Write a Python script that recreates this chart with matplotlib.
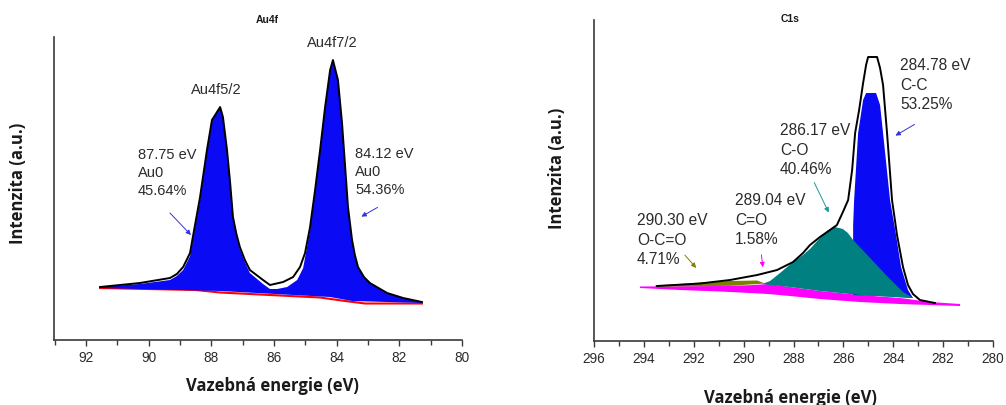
import numpy as np
import matplotlib
matplotlib.use("Agg")
import matplotlib.pyplot as plt
from matplotlib.ticker import MultipleLocator

# ---- Au4f panel (binding energy in eV, intensity in a.u.) ----
au_env_x = [91.55, 90.28, 89.32, 89.10, 88.90, 88.68, 88.59, 88.36, 88.14, 87.98,
            87.88, 87.72, 87.63, 87.50, 87.40, 87.31, 87.20, 87.09, 86.93, 86.77,
            86.35, 86.13, 85.71, 85.39, 85.17, 85.01, 84.85, 84.69, 84.53, 84.37,
            84.21, 84.12, 83.96, 83.83, 83.73, 83.64, 83.51, 83.42, 83.32, 83.13,
            82.94, 82.39, 81.88, 81.28]
au_env_y = [53, 57, 62, 66, 73, 87, 103, 143, 190, 220,
            225, 233, 223, 190, 157, 123, 106, 93, 80, 70,
            60, 55, 58, 63, 73, 87, 113, 150, 190, 233,
            270, 280, 260, 217, 173, 133, 100, 85, 73, 63,
            57, 47, 42, 38]
# fitted Au0 components (filled)
au_fit_x = [91.55, 90.28, 89.32, 89.10, 88.90, 88.68, 88.59, 88.36, 88.14, 87.98,
            87.88, 87.72, 87.63, 87.50, 87.40, 87.31, 87.20, 87.09, 86.93, 86.77,
            86.35, 86.13, 85.90, 85.58, 85.26, 85.07, 84.85, 84.69, 84.53, 84.37,
            84.21, 84.12, 83.96, 83.83, 83.73, 83.64, 83.51, 83.42, 83.32, 83.13,
            82.94, 82.39, 81.88, 81.28]
au_fit_y = [53, 56, 60, 64, 70, 84, 100, 140, 188, 218,
            225, 233, 223, 190, 155, 121, 104, 91, 78, 67,
            56, 51, 51, 53, 60, 72, 110, 148, 190, 233,
            270, 280, 260, 217, 173, 133, 100, 85, 73, 63,
            57, 47, 42, 38]
au_low_x = [81.28, 83.51, 84.21, 87.72, 91.55]
au_low_y = [37, 39, 43, 49, 52]
au_base_x = [91.55, 88.50, 87.72, 84.53, 83.73, 83.09, 81.28]
au_base_y = [52, 50, 47.5, 42.5, 39, 36.5, 36.5]

# ---- C1s panel ----
c_env_x = [293.47, 291.75, 290.55, 289.46, 288.66, 288.02, 287.62, 287.34, 286.94, 286.54,
           286.26, 286.02, 285.81, 285.65, 285.53, 285.37, 285.21, 285.09, 285.01, 284.65,
           284.53, 284.41, 284.25, 284.05, 283.85, 283.61, 283.41, 283.21, 282.93, 282.53,
           282.33]
c_env_y = [55, 57.5, 61, 66, 71, 79, 88, 96, 104, 111,
           116, 129, 141, 171, 208, 231, 258, 276, 284, 284,
           273, 256, 208, 141, 106, 74, 56, 47, 41, 39,
           38]
# C-C component
cc_x = [285.61, 285.57, 285.41, 285.21, 285.09, 284.69, 284.53, 284.41, 284.13, 283.89,
        283.69, 283.41, 283.21, 284.53, 285.61]
cc_y = [116, 141, 208, 241, 248, 248, 236, 208, 141, 106,
        74, 51, 43, 45, 46]
# C-O component
co_x = [289.26, 288.94, 288.54, 288.02, 287.62, 287.34, 286.94, 286.66, 286.34, 286.02,
        285.82, 285.61, 285.27, 284.93, 284.59, 284.25, 283.93, 283.61, 283.21,
        285.33, 286.94, 288.14, 289.26]
co_y = [57, 60, 68, 79, 86, 92, 103, 110, 114, 112,
        108, 101, 92, 83, 74, 65, 57, 49, 43,
        46, 50, 54, 57]
# C=O component and background
cdo_x = [294.16, 292.55, 290.95, 289.74, 289.02, 288.14, 286.94, 285.33, 283.73, 282.53, 281.32]
cdo_top = [54.5, 54.8, 55, 55.8, 57, 54, 50, 46, 43, 39, 37]
cdo_low = [53, 51, 49.5, 48, 47, 45, 42, 39, 37, 36, 35]
# O-C=O component
ocdo_x = [293.55, 292.55, 291.75, 290.55, 289.46, 289.14, 290.55, 291.75, 292.55, 293.55]
ocdo_y = [55.5, 57, 58.5, 60, 60.5, 57.5, 55.2, 54.8, 54.7, 54.5]

TXT = "#2b2b2b"
BLUE = "#0a0af5"
TEAL = "#008080"
MAGENTA = "#ff00ff"
OLIVE = "#808000"

plt.rcParams["font.family"] = ["Liberation Sans", "DejaVu Sans"]

fig = plt.figure(figsize=(10.06, 4.05), dpi=100)
ax1 = fig.add_axes([0.0537, 0.1605, 0.4056, 0.748])
ax2 = fig.add_axes([0.5905, 0.158, 0.3966, 0.7926])


def style_axis(ax, xlim, ylim):
    ax.set_xlim(*xlim)
    ax.set_ylim(*ylim)
    for s in ["top", "right"]:
        ax.spines[s].set_visible(False)
    for s in ["left", "bottom"]:
        ax.spines[s].set_color("#3a3a3a")
        ax.spines[s].set_linewidth(1.2)
    ax.set_yticks([])
    ax.xaxis.set_major_locator(MultipleLocator(2))
    ax.xaxis.set_minor_locator(MultipleLocator(1))
    ax.tick_params(axis="x", which="both", direction="out", color="#3a3a3a",
                   width=1.0, labelsize=9.8, labelcolor=TXT, pad=4)
    ax.tick_params(axis="x", which="major", length=4)
    ax.tick_params(axis="x", which="minor", length=3.5)
    ax.set_xlabel("Vazebná energie (eV)", fontsize=12, fontweight="bold",
                  family=["Open Sans", "DejaVu Sans"], color="#1a1a1a")
    ax.set_ylabel("Intenzita (a.u.)", fontsize=12, fontweight="bold",
                  family=["Open Sans", "DejaVu Sans"], color="#1a1a1a")


# ---- left: Au4f ----
style_axis(ax1, (93.02, 80), (0, 303))
ax1.plot(au_base_x, au_base_y, color="red", lw=1.5, zorder=1)
ax1.fill(au_fit_x + au_low_x, au_fit_y + au_low_y, color=BLUE, lw=0, zorder=2)
ax1.plot(au_env_x, au_env_y, color="black", lw=1.4, zorder=3)
ax1.xaxis.set_label_coords(0.5355, -0.122)
ax1.yaxis.set_label_coords(-0.066, 0.518)

ann_l = dict(fontsize=10.5, color=TXT, linespacing=1.35)
ann_r = dict(fontsize=11.2, color=TXT, linespacing=1.38)
ax1.text(87.85, 250, "Au4f5/2", ha="center", va="center", **ann_l)
ax1.text(84.15, 297, "Au4f7/2", ha="center", va="center", **ann_l)
ax1.text(90.34, 167, "87.75 eV\nAu0\n45.64%", ha="left", va="center", **ann_l)
ax1.text(83.415, 168, "84.12 eV\nAu0\n54.36%", ha="left", va="center", **ann_l)
arr = dict(arrowstyle="-|>", lw=0.7, mutation_scale=7)
ax1.annotate("", xy=(88.59, 103), xytext=(89.38, 129),
             arrowprops=dict(color="#3333dd", **arr))
ax1.annotate("", xy=(83.29, 122), xytext=(82.62, 134),
             arrowprops=dict(color="#3333dd", **arr))

# ---- right: C1s ----
style_axis(ax2, (296, 280), (0, 321))
ax2.fill(cdo_x + cdo_x[::-1], cdo_top + cdo_low[::-1], color=MAGENTA, lw=0, zorder=1)
ax2.fill(cc_x, cc_y, color=BLUE, lw=0, zorder=2)
ax2.fill(co_x, co_y, color=TEAL, lw=0, zorder=3)
ax2.fill(ocdo_x, ocdo_y, color=OLIVE, lw=0, zorder=3)
ax2.plot(c_env_x, c_env_y, color="black", lw=1.4, zorder=4)
ax2.xaxis.set_label_coords(0.491, -0.1495)
ax2.yaxis.set_label_coords(-0.070, 0.539)

ax2.text(283.73, 256, "284.78 eV\nC-C\n53.25%", ha="left", va="center", **ann_r)
ax2.text(288.54, 191, "286.17 eV\nC-O\n40.46%", ha="left", va="center", **ann_r)
ax2.text(290.35, 121, "289.04 eV\nC=O\n1.58%", ha="left", va="center", **ann_r)
ax2.text(294.28, 101, "290.30 eV\nO-C=O\n4.71%", ha="left", va="center", **ann_r)
ax2.annotate("", xy=(284.01, 204), xytext=(283.05, 218),
             arrowprops=dict(color="#3333dd", **arr))
ax2.annotate("", xy=(286.54, 126), xytext=(287.22, 161),
             arrowprops=dict(color="#1a9a9a", **arr))
ax2.annotate("", xy=(289.22, 71), xytext=(289.30, 89),
             arrowprops=dict(color=MAGENTA, **arr))
ax2.annotate("", xy=(291.83, 71), xytext=(292.43, 88),
             arrowprops=dict(color=OLIVE, **arr))

fig.text(0.2654, 0.9506, "Au4f", ha="center", va="center", fontsize=7.5,
         fontweight="bold", color="#1a1a1a")
fig.text(0.785, 0.953, "C1s", ha="center", va="center", fontsize=7.5,
         fontweight="bold", color="#1a1a1a")

fig.savefig("out.png", dpi=100)
